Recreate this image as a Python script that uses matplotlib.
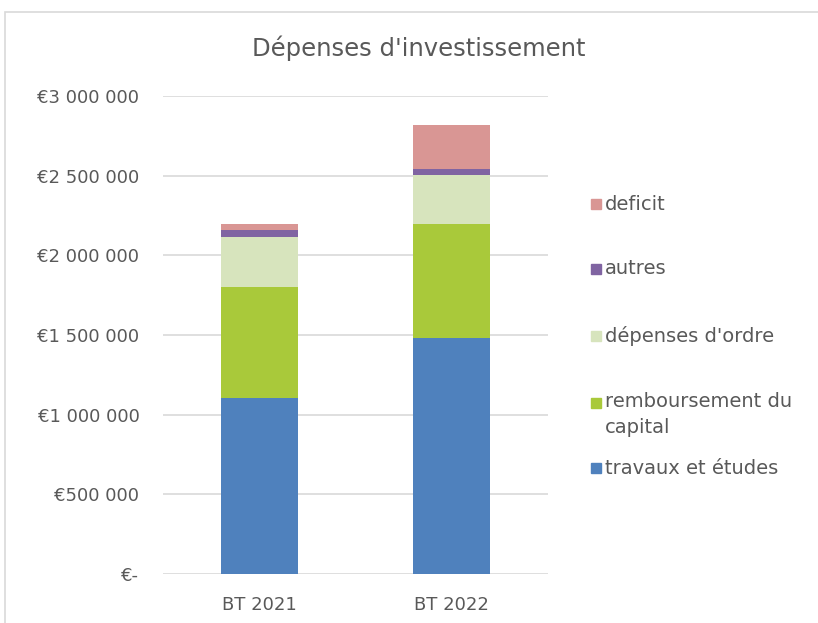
import matplotlib
matplotlib.use("Agg")
import matplotlib.pyplot as plt
from matplotlib.patches import Rectangle
from matplotlib.ticker import FuncFormatter
import numpy as np

plt.rcParams['font.family'] = ['DejaVu Sans']

# data
categories = ["BT 2021", "BT 2022"]
series_names = ["travaux et études", "remboursement du\ncapital", "dépenses d'ordre", "autres", "deficit"]
travaux = [1107000, 1479000]
remboursement = [696000, 720000]
ordre = [315000, 307000]
autres = [42000, 36000]
deficit = [39000, 279000]
colors = ["#4F81BD", "#A9C93A", "#D7E4BD", "#8064A2", "#D99694"]

text_color = "#595959"
grid_color = "#D9D9D9"

fig = plt.figure(figsize=(8.18, 6.23), dpi=100)
ax = fig.add_axes([163 / 818, 1 - 574 / 623, (548 - 163) / 818, (574 - 96) / 623])

x = np.arange(len(categories))
bottom = np.zeros(len(categories))
for vals, col in zip([travaux, remboursement, ordre, autres, deficit], colors):
    ax.bar(x, vals, width=0.4, bottom=bottom, color=col, zorder=3)
    bottom += np.array(vals)

ax.set_xlim(-0.5, 1.5)
ax.set_ylim(0, 3000000)
ax.set_yticks(np.arange(0, 3000001, 500000))
ax.yaxis.set_major_formatter(FuncFormatter(
    lambda v, p: "€-" if v == 0 else "€" + f"{int(v):,}".replace(",", " ")))
ax.set_xticks(x)
ax.set_xticklabels(categories)
ax.tick_params(axis="both", length=0, labelsize=13, colors=text_color)
ax.tick_params(axis="y", pad=17)
ax.tick_params(axis="x", pad=16)
ax.grid(axis="y", color=grid_color, linewidth=1.2, zorder=0)
for s in ax.spines.values():
    s.set_visible(False)

fig.text(419 / 818, 1 - 48 / 623, "Dépenses d'investissement", ha="center", va="center",
         fontsize=17.5, color=text_color)

# legend drawn by hand so the two-line entry lines up like the original
leg_y = [468, 403, 336, 269, 204]
for name, col, yy in zip(series_names, colors, leg_y):
    fig.add_artist(Rectangle((591 / 818, 1 - (yy + 5) / 623), 10 / 818, 10 / 623,
                             transform=fig.transFigure, color=col))
    if "\n" in name:
        fig.text(605 / 818, 1 - (yy - 11) / 623, name, ha="left", va="top",
                 fontsize=14, color=text_color, linespacing=1.45)
    else:
        fig.text(605 / 818, 1 - yy / 623, name, ha="left", va="center",
                 fontsize=14, color=text_color)

# chart border
fig.add_artist(Rectangle((5 / 818, -0.05), 1.1, 1 - 12 / 623 + 0.05, transform=fig.transFigure,
                         fill=False, edgecolor=grid_color, linewidth=1.2))

fig.savefig("out.png", dpi=100)
